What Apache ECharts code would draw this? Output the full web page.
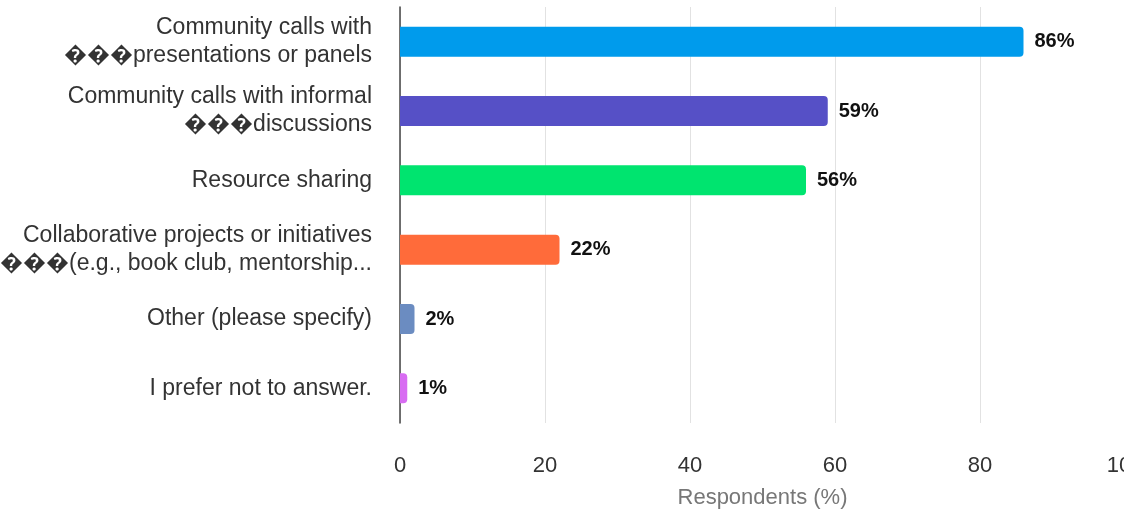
<!DOCTYPE html>
<html>
<head>
<meta charset="utf-8">
<script src="https://cdn.jsdelivr.net/npm/echarts@6/dist/echarts.min.js"></script>
<style>
  html, body { margin: 0; padding: 0; background: #fff; }
  #chart { width: 1124px; height: 516px; }
</style>
</head>
<body>
<div id="chart"></div>
<script>
const categories = [
  'Community calls with\n\uFFFD\uFFFD\uFFFDpresentations or panels',
  'Community calls with informal\n\uFFFD\uFFFD\uFFFDdiscussions',
  'Resource sharing',
  'Collaborative projects or initiatives\n\uFFFD\uFFFD\uFFFD(e.g., book club, mentorship...',
  'Other (please specify)',
  'I prefer not to answer.'
];
const values = [86, 59, 56, 22, 2, 1];
const barColors = ['#009bec', '#5650c6', '#00e46f', '#ff6b3a', '#6b8cc1', '#d86cf2'];
const xTicks = [0, 20, 40, 60, 80, 100];

const chart = echarts.init(document.getElementById('chart'));
const font = 'Liberation Sans, Arial, Helvetica, sans-serif';

chart.setOption({
  animation: false,
  grid: { left: 400, right: -1, top: 7, bottom: 93, outerBoundsMode: 'none', containLabel: false },
  xAxis: {
    type: 'value',
    min: xTicks[0],
    max: xTicks[xTicks.length - 1],
    interval: 20,
    name: 'Respondents (%)',
    nameLocation: 'middle',
    nameGap: 64,
    nameTextStyle: { color: '#777', fontSize: 22, fontFamily: font },
    axisLine: { show: false },
    axisTick: { show: false },
    axisLabel: { color: '#333', fontSize: 22, margin: 32, fontFamily: font },
    splitLine: { show: true, lineStyle: { color: '#e2e2e2', width: 1 } }
  },
  yAxis: {
    type: 'category',
    inverse: true,
    data: categories,
    axisLine: { show: true, lineStyle: { color: '#444', width: 1.5 } },
    axisTick: { show: false },
    axisLabel: {
      color: '#333',
      fontSize: 23,
      lineHeight: 28,
      margin: 28,
      align: 'right',
      fontFamily: font
    }
  },
  series: [{
    type: 'bar',
    barWidth: 30,
    data: values.map((v, i) => ({
      value: v,
      itemStyle: { color: barColors[i], borderRadius: [0, 4, 4, 0] }
    })),
    label: {
      show: true,
      position: 'right',
      distance: 11,
      formatter: '{c}%',
      color: '#111',
      fontSize: 20,
      fontWeight: 'bold',
      fontFamily: font
    }
  }]
});
</script>
</body>
</html>
